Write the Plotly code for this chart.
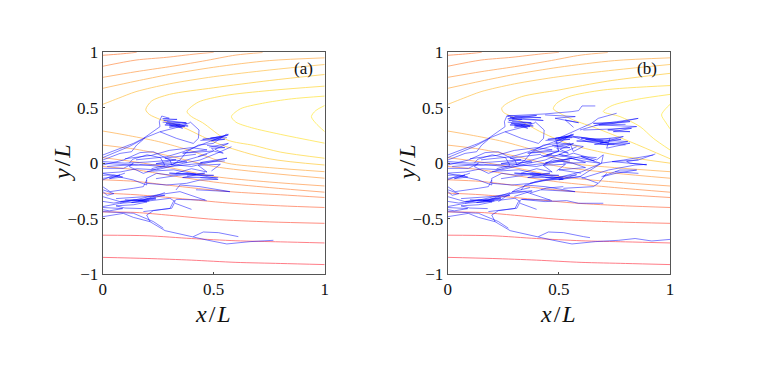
import plotly.graph_objects as go

# level curves, (x, y)
c_top1 = [(0, .973), (.08, .985), (.153, 1)]
c_top2 = [(0, .874), (.15, .93), (.289, .955), (.42, .985), (.5, 1)]
c_top3 = [(0, .774), (.15, .825), (.3, .87), (.45, .92), (.6, .975), (.72, .998)]
c_top4 = [(0, .675), (.15, .74), (.3, .8), (.5, .865), (.75, .925), (1, .95)]
c_top5 = [(0, .53), (.07, .585), (.15, .645), (.3, .715), (.5, .78), (.75, .84), (1, .89)]

c_low1 = [(0, .29), (.1, .255), (.25, .195), (.4, .11), (.56, .0), (.75, -.04), (1, -.077)]
c_low2 = [(0, .163), (.15, .125), (.3, .065), (.5, -.03), (.75, -.09), (1, -.136)]
c_low3 = [(0, .05), (.15, .01), (.3, -.04), (.5, -.12), (.75, -.17), (1, -.206)]
c_low4 = [(0, -.03), (.15, -.06), (.3, -.11), (.5, -.17), (.75, -.22), (1, -.262)]
c_low5 = [(0, -.15), (.15, -.165), (.3, -.2), (.57, -.257), (.8, -.285), (1, -.31)]
c_low6 = [(0, -.27), (.15, -.285), (.3, -.31), (.57, -.36), (.8, -.385), (1, -.40)]
c_low7 = [(0, -.44), (.15, -.445), (.3, -.47), (.5, -.507), (.75, -.53), (1, -.543)]
c_low8 = [(0, -.65), (.2, -.655), (.4, -.68), (.6, -.7), (.8, -.71), (1, -.72)]
c_low9 = [(0, -.85), (.2, -.86), (.4, -.875), (.6, -.895), (.8, -.905), (1, -.915)]

a_n1 = [(1, .80), (.75, .745), (.5, .68), (.3, .62), (.22, .56), (.194, .483), (.21, .44), (.258, .395),
        (.363, .323), (.45, .24), (.54, .16), (.75, .04), (1, -.017)]
a_n2 = [(1, .695), (.75, .655), (.55, .61), (.43, .55), (.38, .465), (.4, .42), (.45, .365), (.56, .21),
        (.68, .16), (.8, .10), (1, .044)]
a_n3 = [(1, .605), (.85, .58), (.72, .54), (.62, .49), (.58, .42), (.6, .37), (.67, .32), (.8, .26), (1, .18)]
a_n4 = [(1, .52), (.96, .475), (.94, .42), (.96, .36), (1, .284)]

b_n1 = [(1, .81), (.72, .74), (.5, .66), (.333, .60), (.26, .53), (.243, .495), (.25, .46), (.30, .41),
        (.36, .345), (.43, .27), (.55, .17), (.75, .075), (1, -.0)]
b_n2 = [(1, .70), (.7, .66), (.545, .60), (.49, .54), (.475, .49), (.505, .45), (.565, .39), (.67, .314),
        (.82, .194), (1, .04)]
b_n3 = [(1, .62), (.85, .575), (.74, .52), (.70, .465), (.775, .42), (.865, .33), (.925, .224), (1, .119)]
b_n4 = [(1, .53), (.98, .49), (.962, .435), (.98, .37), (1, .31)]

shared_curves = [
    (c_top1, "#ff8a50"), (c_top2, "#ff9c60"), (c_top3, "#ffa860"), (c_top4, "#ffb860"), (c_top5, "#ffc860"),
    (c_low1, "#ffb860"), (c_low2, "#ffad60"), (c_low3, "#ffa560"), (c_low4, "#ff9c60"), (c_low5, "#ff9060"),
    (c_low6, "#ff8260"), (c_low7, "#ff7060"), (c_low8, "#ff6068"), (c_low9, "#ff5a68"),
]
a_curves = [(a_n1, "#ffd050"), (a_n2, "#ffdc50"), (a_n3, "#ffe650"), (a_n4, "#ffec50")]
b_curves = [(b_n1, "#ffd050"), (b_n2, "#ffdc50"), (b_n3, "#ffe650"), (b_n4, "#ffec50")]

# blue paths present in both panels
tracks_shared = [
    [(0, .073), (.078, .133), (.138, .178), (.183, .223), (.258, .283), (.348, .329), (.393, .365)],
    [(0, .028), (.078, .088), (.13, .103), (.153, .163), (.183, .214)],
    [(0, .05), (.06, .10), (.12, .15), (.19, .225)],
    [(.183, .223), (.258, .329), (.255, .374), (.266, .425), (.30, .405), (.27, .40), (.335, .395), (.275, .385),
     (.375, .365), (.285, .36), (.385, .335), (.30, .345), (.36, .315), (.33, .34)],
    [(.27, .37), (.35, .35), (.28, .345), (.37, .33), (.30, .325), (.38, .36), (.29, .375)],
    [(.258, .283), (.333, .223), (.408, .178), (.431, .223), (.434, .299), (.393, .374)],
    [(0, -.017), (.093, .028), (.168, .095), (.228, .103), (.303, .028), (.311, -.017), (.348, .028), (.378, .103),
     (.431, .163), (.498, .178), (.558, .262)],
    [(.15, .03), (.288, .058), (.363, .103), (.438, .163), (.513, .223), (.566, .262)],
    [(.44, .205), (.55, .215), (.49, .20), (.566, .255), (.485, .225), (.54, .24), (.45, .215), (.56, .23)],
    [(.48, .145), (.566, .178), (.505, .125), (.543, .09), (.505, .105), (.49, .135), (.55, .14), (.47, .16)],
    [(0, -.09), (.078, -.08), (.153, -.05), (.243, -.06), (.363, -.002), (.438, .028), (.513, .088), (.58, .148)],
    [(0, -.047), (.093, -.047), (.138, -.002), (.12, -.032), (.183, -.092), (.273, -.032), (.378, .028), (.47, .08)],
    [(.1, .04), (.22, .07), (.3, .115), (.4, .14), (.47, .12), (.36, .09), (.5, .11), (.43, .06)],
    [(0, .0), (.15, -.02), (.3, -.01), (.4, -.03), (.56, .045), (.44, .005), (.55, .02)],
    [(0, .015), (.1, .0), (.2, .01), (.33, .03), (.24, -.005), (.38, .01), (.28, .045), (.42, .08)],
    [(.02, -.03), (.16, -.01), (.28, -.035), (.36, -.02), (.45, .0)],
    [(.12, .0), (.135, .035), (.2, .075), (.26, .05), (.28, -.02), (.22, -.05)],
    [(.33, -.09), (.4, -.05), (.47, -.08), (.43, -.02), (.53, -.01), (.49, -.07)],
    [(.2, -.075), (.32, -.06), (.42, -.10), (.30, -.09), (.5, -.11), (.38, -.115)],
    [(.24, -.14), (.34, -.11), (.46, -.09), (.36, -.13), (.52, -.13)],
    [(0, -.152), (.033, -.122), (.078, -.107), (.063, -.122), (0, -.137)],
    [(0, -.11), (.05, -.105), (.09, -.125), (.03, -.14), (.10, -.09)],
    [(0, -.092), (.138, -.152), (.198, -.197), (.198, -.137), (.243, -.092), (.303, -.107), (.393, -.092), (.513, -.137)],
    [(.198, -.182), (.288, -.197), (.378, -.182), (.438, -.152), (.52, -.146), (.44, -.13)],
    [(.33, -.242), (.348, -.197), (.438, -.212), (.573, -.257), (.42, -.24)],
    [(0, -.212), (.033, -.257), (.138, -.227), (.183, -.212), (.198, -.152)],
    [(0, -.302), (.078, -.347), (.183, -.332), (.273, -.272), (.28, -.266)],
    [(.078, -.362), (.183, -.317), (.243, -.287), (.348, -.257), (.468, -.338)],
    [(0, -.392), (.078, -.362), (.183, -.347), (.303, -.317), (.326, -.347), (.311, -.407), (.183, -.437)],
    [(.326, -.362), (.40, -.417)],
    [(0, -.437), (.138, -.452), (.228, -.527), (.273, -.587)],
    [(0, -.483), (.093, -.453), (.138, -.489), (.213, -.528), (.281, -.609), (.408, -.663), (.468, -.693)],
    [(.408, -.663), (.453, -.621), (.521, -.627), (.611, -.663)],
    [(.213, -.528), (.198, -.468), (.228, -.429), (.303, -.408), (.318, -.348), (.333, -.327), (.461, -.333)],
    [(0, -.345), (.05, -.36), (.14, -.33), (.2, -.35), (.14, -.375), (.06, -.385), (.1, -.405), (.18, -.41)],
    [(.06, -.32), (.16, -.305), (.28, -.29), (.16, -.34), (.24, -.325)],
    [(.08, -.345), (.18, -.325), (.24, -.315), (.13, -.355), (.21, -.34), (.10, -.33)],
    [(0, -.255), (.02, -.29), (.05, -.275), (.0, -.24)],
    [(.0, -.40), (.09, -.41), (.03, -.43), (.0, -.42)],
]
# only in panel (a)
tracks_a = [
    [(.468, -.693), (.559, -.729), (.664, -.708), (.769, -.696)],
]
# only in panel (b)
tracks_b = [
    [(.468, -.693), (.559, -.729), (.664, -.708), (.769, -.696), (.843, -.68), (.918, -.702), (1, -.688)],
    [(.611, -.663), (.64, -.672)],
    [(.266, .426), (.438, .444), (.559, .465), (.589, .474), (.604, .516), (.664, .516)],
    [(.438, .435), (.574, .42), (.483, .405), (.589, .365), (.529, .389), (.566, .323)],
    [(.27, .43), (.42, .41), (.28, .415), (.43, .385), (.29, .40), (.40, .43), (.30, .42)],
    [(.497, .224), (.595, .314), (.647, .359), (.677, .404), (.76, .45)],
    [(.595, .299), (.7, .359), (.76, .374), (.857, .404), (.745, .359), (.655, .359), (.82, .375), (.66, .34)],
    [(.61, .299), (.775, .314), (.827, .314), (.745, .284), (.82, .284), (.72, .30), (.85, .33), (.68, .345), (.80, .35)],
    [(.497, .224), (.58, .24), (.67, .21), (.79, .24), (.685, .18), (.82, .18), (.715, .135), (.73, .225)],
    [(.565, .24), (.625, .195), (.715, .165), (.81, .195), (.62, .215), (.75, .17)],
    [(.53, .24), (.62, .23), (.70, .20), (.58, .20), (.72, .185), (.60, .225), (.78, .215), (.66, .17), (.80, .165)],
    [(.385, .105), (.46, .15), (.55, .18), (.565, .105), (.61, .15), (.48, .19)],
    [(.485, .225), (.50, .105), (.445, .075), (.52, .06), (.565, .09), (.67, .03), (.70, .075), (.692, -.0)],
    [(.42, .07), (.52, .03), (.60, .06), (.66, .02), (.50, .08), (.62, .005), (.52, .0)],
    [(.595, -.122), (.692, .0), (.79, .028), (.925, .073)],
    [(.74, .014), (.82, -.0), (.895, -.015), (.82, -.0), (.805, .015), (.858, .03)],
    [(.55, .045), (.625, .015), (.685, -.0), (.60, .06), (.67, .05)],
    [(.692, -.122), (.775, -.062), (.85, -.062), (.76, -.09), (.70, -.12)],
    [(.595, -.122), (.677, -.182), (.655, -.212), (.52, -.227)],
    [(.37, -.105), (.475, -.135), (.58, -.105), (.50, -.15), (.595, -.122)],
    [(.37, -.18), (.46, -.15), (.52, -.137), (.595, -.122)],
    [(.37, -.27), (.445, -.225), (.52, -.212)],
    [(.333, -.327), (.438, -.347), (.535, -.338), (.588, -.362), (.70, -.362)],
    [(.228, -.347), (.303, -.242), (.393, -.167), (.513, -.122), (.603, -.077), (.693, .0)],
    [(.603, -.137), (.723, -.062), (.843, -.017), (.895, -.011)],
    [(.678, -.182), (.715, -.092)],
    [(.753, -.077), (.858, -.092)],
    [(.74, .014), (.858, .029), (.934, .083)],
    [(.43, -.02), (.47, .03), (.56, .0), (.62, -.04), (.50, -.06), (.60, -.09)],
    [(.30, -.30), (.38, -.25), (.29, -.26), (.37, -.22)],
]

x_ticks = [0, .5, 1]
x_tick_text = ["0", "0.5", "1"]
y_ticks = [-1, -.5, 0, .5, 1]
y_tick_text = ["−1", "−0.5", "0", "0.5", "1"]

# the page body has an 8px margin, so the figure is 8px smaller and everything is placed 8px up/left
OFFSET = 8
W, H = 763 - OFFSET, 374 - OFFSET
SERIF = "Liberation Serif"
INK = "#111"

fig = go.Figure()


def add_panel(curves, tracks, xa, ya):
    for pts, col in curves:
        fig.add_trace(go.Scatter(x=[p[0] for p in pts], y=[p[1] for p in pts], mode="lines",
                                 line=dict(color=col, width=0.8, shape="spline", smoothing=0.8),
                                 xaxis=xa, yaxis=ya, hoverinfo="skip", showlegend=False))
    for pts in tracks:
        fig.add_trace(go.Scatter(x=[p[0] for p in pts], y=[p[1] for p in pts], mode="lines",
                                 line=dict(color="#0000ff", width=0.5),
                                 xaxis=xa, yaxis=ya, hoverinfo="skip", showlegend=False))


add_panel(shared_curves + a_curves, tracks_shared + tracks_a, "x", "y")
add_panel(shared_curves + b_curves, tracks_shared + tracks_b, "x2", "y2")

ax_x = dict(range=[0, 1], tickvals=x_ticks, ticktext=x_tick_text, ticks="inside", ticklen=2, tickwidth=0.7,
            tickcolor="#444", showline=True, linecolor="#555", linewidth=1, mirror=True, showgrid=False,
            zeroline=False, automargin=False, tickfont=dict(family=SERIF, size=17, color=INK))
ax_y = dict(range=[-1, 1], tickvals=y_ticks, ticktext=y_tick_text, ticks="inside", ticklen=2, tickwidth=0.7,
            tickcolor="#444", showline=True, linecolor="#555", linewidth=1, mirror=True, showgrid=False,
            zeroline=False, automargin=False, tickfont=dict(family=SERIF, size=17, color=INK))


def axis_label(text, px, py, angle=0):
    return dict(text=text, x=(px - OFFSET) / W, y=1 - (py - OFFSET) / H, xref="paper", yref="paper",
                showarrow=False, textangle=angle, xanchor="center", yanchor="middle",
                font=dict(family=SERIF, size=24, color=INK))


def panel_label(text, x, xref, yref):
    return dict(text=text, x=x, y=.85, xref=xref, yref=yref, showarrow=False,
                font=dict(family=SERIF, size=17, color=INK))


X_LABEL = "<i>x</i>\u200a/\u200a<i>L</i>"
Y_LABEL = "<i>y</i>\u200a/\u200a<i>L</i>"

y_dom = [1 - (274 - OFFSET) / H, 1 - (52.3 - OFFSET) / H]
fig.update_layout(
    width=W, height=H, margin=dict(l=0, r=0, t=0, b=0), paper_bgcolor="white", plot_bgcolor="white",
    showlegend=False,
    xaxis=dict(ax_x, domain=[(102.7 - OFFSET) / W, (324.7 - OFFSET) / W], anchor="y"),
    yaxis=dict(ax_y, domain=y_dom, anchor="x"),
    xaxis2=dict(ax_x, domain=[(447.7 - OFFSET) / W, (670 - OFFSET) / W], anchor="y2"),
    yaxis2=dict(ax_y, domain=y_dom, anchor="x2"),
    annotations=[
        panel_label("(a)", .905, "x", "y"),
        panel_label("(b)", .895, "x2", "y2"),
        axis_label(X_LABEL, 213, 314),
        axis_label(X_LABEL, 558, 314),
        axis_label(Y_LABEL, 62, 163, -90),
        axis_label(Y_LABEL, 407, 163, -90),
    ],
)

fig.write_html("out.html")
